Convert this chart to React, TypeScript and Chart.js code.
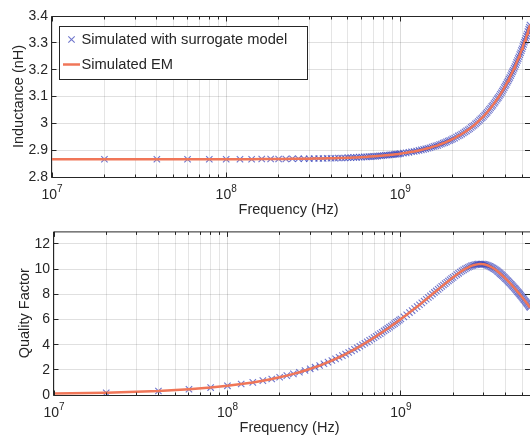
import React, { useEffect, useRef } from "react";
import { Chart, registerables } from "chart.js";
Chart.register(...registerables);

// Frequency (MHz) of each simulated point
const freqMHz = [
  10,
  20, 40, 60, 80, 100, 120, 140, 160, 180, 200,
  220, 240, 260, 280, 300, 320, 340, 360, 380, 400,
  420, 440, 460, 480, 500, 520, 540, 560, 580, 600,
  620, 640, 660, 680, 700, 720, 740, 760, 780, 800,
  820, 840, 860, 880, 900, 920, 940, 960, 980, 1000,
  1040, 1080, 1120, 1160, 1200, 1240, 1280, 1320, 1360, 1400,
  1440, 1480, 1520, 1560, 1600, 1640, 1680, 1720, 1760, 1800,
  1840, 1880, 1920, 1960, 2000,
  2050, 2100, 2150, 2200, 2250, 2300, 2350, 2400, 2450, 2500,
  2550, 2600, 2650, 2700, 2750, 2800, 2850, 2900, 2950, 3000,
  3050, 3100, 3150, 3200, 3250, 3300, 3350, 3400, 3450, 3500,
  3550, 3600, 3650, 3700, 3750, 3800, 3850, 3900, 3950, 4000,
  4050, 4100, 4150, 4200, 4250, 4300, 4350, 4400, 4450, 4500,
  4550, 4600, 4650, 4700, 4750, 4800, 4850, 4900, 4950, 5000,
  5050, 5100, 5150, 5200, 5250, 5300, 5350, 5400, 5450, 5500,
  5550, 5600,
];

// Inductance (nH)
const inductanceNH = [
  2.866,
  2.866, 2.866, 2.866, 2.866, 2.866, 2.866, 2.866, 2.867, 2.867, 2.867,
  2.867, 2.868, 2.868, 2.868, 2.868, 2.869, 2.869, 2.869, 2.870, 2.870,
  2.870, 2.871, 2.871, 2.871, 2.872, 2.872, 2.873, 2.873, 2.874, 2.874,
  2.875, 2.875, 2.876, 2.876, 2.877, 2.877, 2.878, 2.879, 2.879, 2.880,
  2.881, 2.881, 2.882, 2.883, 2.883, 2.884, 2.885, 2.885, 2.886, 2.887,
  2.889, 2.890, 2.892, 2.894, 2.895, 2.897, 2.899, 2.901, 2.903, 2.905,
  2.907, 2.909, 2.912, 2.914, 2.916, 2.918, 2.921, 2.923, 2.926, 2.928,
  2.931, 2.934, 2.936, 2.939, 2.942,
  2.945, 2.949, 2.953, 2.956, 2.960, 2.964, 2.968, 2.972, 2.976, 2.980,
  2.985, 2.989, 2.993, 2.998, 3.002, 3.007, 3.012, 3.017, 3.021, 3.026,
  3.031, 3.036, 3.041, 3.047, 3.052, 3.057, 3.063, 3.068, 3.074, 3.079,
  3.085, 3.091, 3.096, 3.102, 3.108, 3.114, 3.120, 3.126, 3.133, 3.139,
  3.145, 3.152, 3.158, 3.165, 3.171, 3.178, 3.185, 3.192, 3.198, 3.205,
  3.212, 3.219, 3.227, 3.234, 3.241, 3.248, 3.256, 3.263, 3.271, 3.278,
  3.286, 3.294, 3.302, 3.309, 3.317, 3.325, 3.333, 3.342, 3.350, 3.358,
  3.366, 3.375,
];

// Quality factor
const qualityFactor = [
  0.12,
  0.18, 0.32, 0.46, 0.59, 0.73, 0.87, 1.0, 1.14, 1.27, 1.41,
  1.54, 1.68, 1.81, 1.95, 2.08, 2.21, 2.34, 2.48, 2.61, 2.74,
  2.87, 3.0, 3.13, 3.25, 3.38, 3.5, 3.63, 3.75, 3.87, 3.99,
  4.11, 4.22, 4.34, 4.45, 4.56, 4.67, 4.78, 4.88, 4.99, 5.09,
  5.19, 5.29, 5.39, 5.48, 5.58, 5.67, 5.77, 5.86, 5.95, 6.04,
  6.21, 6.38, 6.55, 6.71, 6.87, 7.02, 7.17, 7.32, 7.47, 7.61,
  7.75, 7.88, 8.02, 8.15, 8.27, 8.39, 8.51, 8.63, 8.74, 8.85,
  8.96, 9.06, 9.16, 9.26, 9.35,
  9.46, 9.57, 9.67, 9.77, 9.86, 9.94, 10.02, 10.09, 10.15, 10.21,
  10.26, 10.3, 10.33, 10.36, 10.38, 10.4, 10.41, 10.41, 10.4, 10.39,
  10.37, 10.34, 10.31, 10.27, 10.23, 10.18, 10.13, 10.08, 10.03, 9.97,
  9.91, 9.84, 9.77, 9.7, 9.63, 9.56, 9.49, 9.42, 9.35, 9.27,
  9.2, 9.12, 9.05, 8.97, 8.9, 8.82, 8.75, 8.67, 8.6, 8.52,
  8.45, 8.37, 8.3, 8.22, 8.15, 8.07, 8.0, 7.92, 7.85, 7.77,
  7.7, 7.62, 7.55, 7.47, 7.4, 7.32, 7.25, 7.17, 7.1, 7.02,
  6.95, 6.87,
];

// Axis ticks
const xGridHz = [
  1e7, 2e7, 3e7, 4e7, 5e7, 6e7, 7e7, 8e7, 9e7,
  1e8, 2e8, 3e8, 4e8, 5e8, 6e8, 7e8, 8e8, 9e8,
  1e9, 2e9, 3e9, 4e9, 5e9,
];
const xDecadeHz = [1e7, 1e8, 1e9];
const xDecadeExp = ["7", "8", "9"];
const xMinHz = 1e7;
const xMaxHz = 5.55e9;
const inductanceTicks = [2.8, 2.9, 3, 3.1, 3.2, 3.3, 3.4];
const qualityTicks = [0, 2, 4, 6, 8, 10, 12];

const FONT = '"Liberation Sans", Arial, Helvetica, sans-serif';
const TEXT = "#262626";
const LINE_COLOR = "rgb(240,118,88)";
const MARK_COLOR = "rgba(55,65,185,0.72)";
const legendLabels = ["Simulated with surrogate model", "Simulated EM"];

function framePlugin(p: {
  yTicks: number[];
  yTitle: string;
  yTitleX: number;
  legend: boolean;
}) {
  return {
    id: "frame",
    afterDraw(chart: any) {
      const ctx = chart.ctx as CanvasRenderingContext2D;
      const a = chart.chartArea;
      const xs = chart.scales.x;
      const ys = chart.scales.y;
      const al = (v: number) => Math.round(v - 0.5) + 0.5;
      const L = a.left - 0.5;
      const T = a.top + 0.5;
      const B = a.bottom + 0.5;
      const R = a.right;
      ctx.save();
      ctx.strokeStyle = TEXT;
      ctx.lineWidth = 1;
      ctx.beginPath();
      for (const v of xGridHz) {
        const px = al(xs.getPixelForValue(v));
        if (px > R) continue;
        const len = xDecadeHz.includes(v) ? 5 : 3;
        ctx.moveTo(px, B);
        ctx.lineTo(px, B - len);
        ctx.moveTo(px, T);
        ctx.lineTo(px, T + len);
      }
      for (const v of p.yTicks) {
        const py = al(ys.getPixelForValue(v));
        ctx.moveTo(L, py);
        ctx.lineTo(L + 5, py);
        ctx.moveTo(R, py);
        ctx.lineTo(R - 5, py);
      }
      ctx.stroke();
      ctx.beginPath();
      ctx.moveTo(R, T);
      ctx.lineTo(L, T);
      ctx.lineTo(L, B);
      ctx.lineTo(R, B);
      ctx.stroke();

      // x decade labels 10^n
      ctx.fillStyle = TEXT;
      ctx.textBaseline = "alphabetic";
      ctx.textAlign = "left";
      const base = a.bottom + 21.5;
      xDecadeHz.forEach((v, i) => {
        const px = xs.getPixelForValue(v);
        ctx.font = `14px ${FONT}`;
        const w1 = ctx.measureText("10").width;
        ctx.font = `10px ${FONT}`;
        const w2 = ctx.measureText(xDecadeExp[i]).width;
        const x0 = px - (w1 + w2) / 2;
        ctx.font = `14px ${FONT}`;
        ctx.fillText("10", x0, base);
        ctx.font = `10px ${FONT}`;
        ctx.fillText(xDecadeExp[i], x0 + w1, base - 6.5);
      });

      // x title
      ctx.font = `14.5px ${FONT}`;
      ctx.textAlign = "center";
      ctx.fillText("Frequency (Hz)", (a.left + a.right) / 2 - 2.5, a.bottom + 37);

      // y title
      ctx.save();
      ctx.translate(p.yTitleX, (a.top + a.bottom) / 2);
      ctx.rotate(-Math.PI / 2);
      ctx.textBaseline = "middle";
      ctx.textAlign = "center";
      ctx.fillText(p.yTitle, 0, 0);
      ctx.restore();

      if (p.legend) {
        ctx.fillStyle = "#ffffff";
        ctx.fillRect(59.5, 26.5, 248, 53);
        ctx.strokeStyle = TEXT;
        ctx.strokeRect(59.5, 26.5, 248, 53);
        const mx = 71.5, my = 39.5, d = 3.2;
        ctx.strokeStyle = MARK_COLOR;
        ctx.lineWidth = 1.1;
        ctx.beginPath();
        ctx.moveTo(mx - d, my - d);
        ctx.lineTo(mx + d, my + d);
        ctx.moveTo(mx - d, my + d);
        ctx.lineTo(mx + d, my - d);
        ctx.stroke();
        ctx.strokeStyle = LINE_COLOR;
        ctx.lineWidth = 2.5;
        ctx.beginPath();
        ctx.moveTo(63, 64.5);
        ctx.lineTo(80, 64.5);
        ctx.stroke();
        ctx.fillStyle = TEXT;
        ctx.font = `14.7px ${FONT}`;
        ctx.textAlign = "left";
        ctx.textBaseline = "middle";
        ctx.fillText(legendLabels[0], 81.5, 40);
        ctx.fillText(legendLabels[1], 81.5, 65);
      }
      ctx.restore();
    },
  };
}

function makeConfig(opts: {
  values: number[];
  yMin: number;
  yMax: number;
  yTicks: number[];
  yWidth: number;
  topPad: number;
  xHeight: number;
  yTitle: string;
  yTitleX: number;
  legend: boolean;
}): any {
  const pts = freqMHz.map((f, i) => ({ x: f * 1e6, y: opts.values[i] }));
  return {
    type: "line",
    data: {
      datasets: [
        {
          label: legendLabels[1],
          data: pts,
          borderColor: LINE_COLOR,
          borderWidth: 2.5,
          pointRadius: 0,
          fill: false,
          tension: 0,
        },
        {
          label: legendLabels[0],
          data: pts.slice(1),
          showLine: false,
          pointStyle: "crossRot",
          pointRadius: 4.5,
          pointBorderWidth: 1.1,
          pointBorderColor: MARK_COLOR,
          pointBackgroundColor: "rgba(0,0,0,0)",
        },
      ],
    },
    options: {
      animation: false,
      responsive: false,
      events: [],
      layout: {
        autoPadding: false,
        padding: { top: opts.topPad, left: 0, right: 0, bottom: 0 },
      },
      plugins: { legend: { display: false }, tooltip: { enabled: false } },
      scales: {
        x: {
          type: "logarithmic",
          min: xMinHz,
          max: xMaxHz,
          afterBuildTicks: (s: any) => {
            s.ticks = xGridHz.map((v) => ({ value: v }));
          },
          ticks: { display: false },
          grid: {
            drawTicks: false,
            color: (c: any) =>
              c.tick && xDecadeHz.includes(c.tick.value)
                ? "rgba(0,0,0,0.14)"
                : "rgba(0,0,0,0.10)",
          },
          border: { display: false },
          afterFit: (s: any) => {
            s.height = opts.xHeight;
          },
        },
        y: {
          min: opts.yMin,
          max: opts.yMax,
          afterBuildTicks: (s: any) => {
            s.ticks = opts.yTicks.map((v) => ({ value: v }));
          },
          ticks: {
            padding: 4,
            color: TEXT,
            font: { family: FONT, size: 14 },
            callback: (v: any) => String(v),
          },
          grid: { drawTicks: false, color: "rgba(0,0,0,0.12)" },
          border: { display: false },
          afterFit: (s: any) => {
            s.width = opts.yWidth;
          },
        },
      },
    },
    plugins: [
      framePlugin({
        yTicks: opts.yTicks,
        yTitle: opts.yTitle,
        yTitleX: opts.yTitleX,
        legend: opts.legend,
      }),
    ],
  };
}

export default function App() {
  const topRef = useRef<HTMLCanvasElement>(null);
  const botRef = useRef<HTMLCanvasElement>(null);

  useEffect(() => {
    const c1 = new Chart(
      topRef.current as HTMLCanvasElement,
      makeConfig({
        values: inductanceNH,
        yMin: 2.8,
        yMax: 3.4,
        yTicks: inductanceTicks,
        yWidth: 52,
        topPad: 16,
        xHeight: 42,
        yTitle: "Inductance (nH)",
        yTitleX: 19,
        legend: true,
      })
    );
    const c2 = new Chart(
      botRef.current as HTMLCanvasElement,
      makeConfig({
        values: qualityFactor,
        yMin: 0,
        yMax: 13,
        yTicks: qualityTicks,
        yWidth: 54,
        topPad: 10.5,
        xHeight: 42,
        yTitle: "Quality Factor",
        yTitleX: 25,
        legend: false,
      })
    );
    return () => {
      c1.destroy();
      c2.destroy();
    };
  }, []);

  return (
    <div
      style={{
        position: "absolute",
        left: 0,
        top: 0,
        width: 530,
        height: 437,
        background: "#ffffff",
      }}
    >
      <canvas
        ref={topRef}
        width={530}
        height={219}
        style={{ display: "block", width: 530, height: 219 }}
      />
      <canvas
        ref={botRef}
        width={530}
        height={218}
        style={{ display: "block", width: 530, height: 218 }}
      />
    </div>
  );
}
